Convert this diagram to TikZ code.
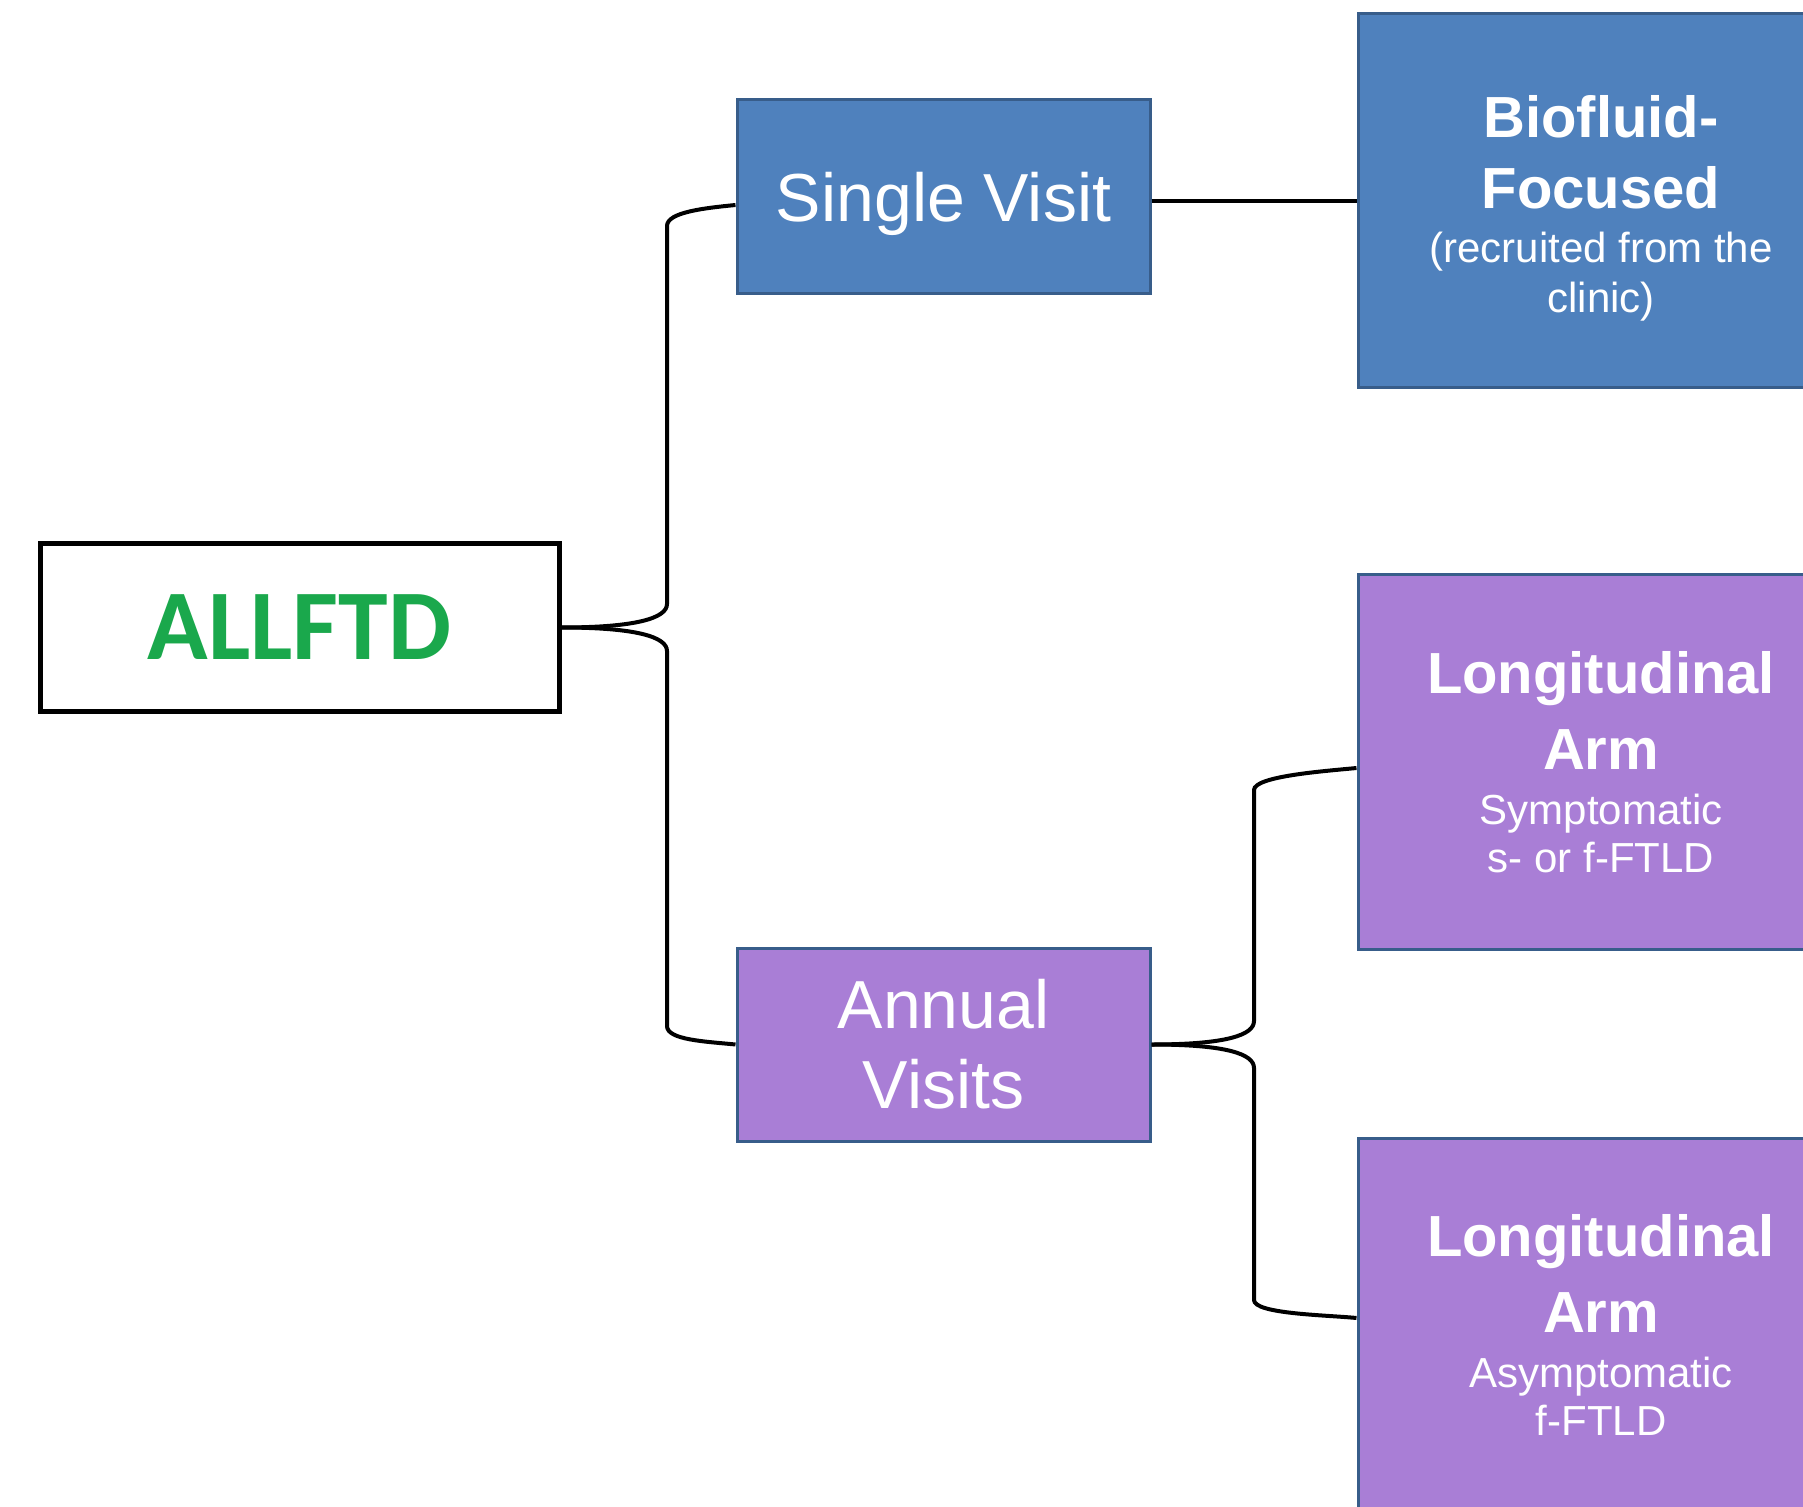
\documentclass[tikz,border=0pt]{standalone}
\usepackage{fontspec}
\setmainfont{Liberation Sans}
\newfontfamily\calib{Carlito}
\definecolor{boxblue}{RGB}{79,129,189}
\definecolor{blueline}{RGB}{56,93,138}
\definecolor{boxpurple}{RGB}{169,126,214}
\definecolor{allgreen}{RGB}{26,168,76}
\newcommand{\bigb}{\fontsize{29}{25}\selectfont\bfseries}
\begin{document}
\begin{tikzpicture}[x=0.5pt,y=-0.5pt,
  bluebox/.style={draw=blueline,line width=1.5pt,fill=boxblue,text=white,align=center,inner sep=0pt},
  purplebox/.style={draw=blueline,line width=1.5pt,fill=boxpurple,text=white,align=center,inner sep=0pt},
  conn/.style={line width=2pt,black}]
\path[use as bounding box,fill=white] (0,0) rectangle (1803,1507);
\begin{scope}
\clip (0,0) rectangle (1803,1507);
\node[draw=black,line width=2.5pt,fill=white,minimum width=259.5pt,minimum height=83.5pt,inner sep=0pt,
  font=\calib\fontsize{50}{60}\selectfont\bfseries,text=allgreen] (all) at (299.5,627.5) {ALLFTD};
\node[bluebox,minimum width=206.5pt,minimum height=97pt,text depth=0pt,
  font=\fontsize{34}{40}\selectfont] (sv) at (943.5,197) {Single Visit};
\node[purplebox,minimum width=206.5pt,minimum height=96.5pt,
  font=\fontsize{34}{40}\selectfont] (ann) at (943.5,1044.5) {Annual\\Visits};
\node[bluebox,minimum width=243pt,minimum height=187pt,font=\fontsize{21}{25}\selectfont] (bio) at (1601,201)
  {\rule{0pt}{28pt}\bigb Biofluid-\\[10.5pt]\bigb Focused\\[2pt](recruited from the\\clinic)};
\node[purplebox,minimum width=243pt,minimum height=187pt,font=\fontsize{21}{25}\selectfont] (la1) at (1601,762)
  {\bigb Longitudinal\\[11pt]\bigb Arm\\[2.5pt]Symptomatic\\[-1pt]s- or f-FTLD};
\node[purplebox,minimum width=243pt,minimum height=187pt,font=\fontsize{21}{25}\selectfont] (la2) at (1601,1325)
  {\bigb Longitudinal\\[11pt]\bigb Arm\\[2.5pt]Asymptomatic\\[-1pt]f-FTLD};
\end{scope}
% connectors
\draw[conn] (bio.west -| sv.east) -- (bio.west);
\draw[conn] (all.east) .. controls +(75,0) and +(0,14) .. (667,604) -- (667,226)
  .. controls +(0,-14) and +(-30,3) .. ([yshift=-4pt]sv.west);
\draw[conn] (all.east) .. controls +(75,0) and +(0,-14) .. (667,651) -- (667,1026)
  .. controls +(0,14) and +(-30,-3) .. (ann.west);
\draw[conn] (ann.east) .. controls +(75,0) and +(0,14) .. (1254,1021) -- (1254,790)
  .. controls +(0,-14) and +(-30,3) .. ([yshift=-3pt]la1.west);
\draw[conn] (ann.east) .. controls +(75,0) and +(0,-14) .. (1254,1068) -- (1254,1300)
  .. controls +(0,14) and +(-30,-3) .. ([yshift=3.5pt]la2.west);
\end{tikzpicture}
\end{document}
